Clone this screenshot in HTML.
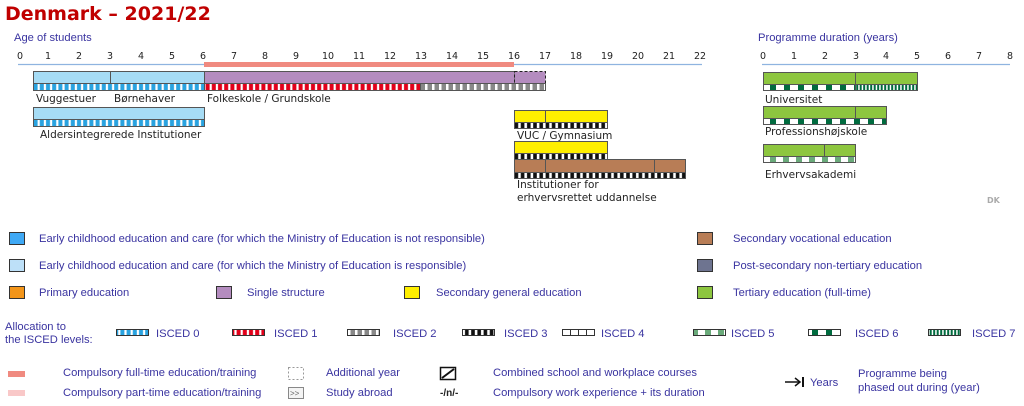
<!DOCTYPE html>
<html><head><meta charset="utf-8"><style>
body{margin:0;background:#fff;}
svg{display:block;font-family:"Liberation Sans",Arial,sans-serif;}
.t{font-family:"DejaVu Sans","Liberation Sans",sans-serif;font-size:10.5px;fill:#222;}
.l{font-size:11.2px;fill:#3a34a0;}
.ax{font-family:"DejaVu Sans",sans-serif;font-size:9.5px;fill:#222;text-anchor:middle;}
</style></head><body>
<svg width="1024" height="406" viewBox="0 0 1024 406" xmlns="http://www.w3.org/2000/svg">
<defs>
<pattern id="p0" width="6.2" height="7" patternUnits="userSpaceOnUse" x="33"><rect width="6.2" height="7" fill="#fff"/><rect x="0.6" y="0" width="4" height="7" fill="#29a3e0"/></pattern>
<pattern id="p1" width="6.2" height="7" patternUnits="userSpaceOnUse" x="205"><rect width="6.2" height="7" fill="#fff"/><rect x="0.6" y="0" width="4" height="7" fill="#e2001a"/></pattern>
<pattern id="p2" width="7" height="7" patternUnits="userSpaceOnUse" x="420"><rect width="7" height="7" fill="#fff"/><rect x="0.5" y="0" width="4.5" height="7" fill="#888"/></pattern>
<pattern id="p3" width="6.2" height="7" patternUnits="userSpaceOnUse" x="514"><rect width="6.2" height="7" fill="#fff"/><rect x="0.6" y="0" width="3.6" height="7" fill="#111"/></pattern>
<pattern id="p5" width="13" height="7" patternUnits="userSpaceOnUse" x="763"><rect width="13" height="7" fill="#fff"/><rect x="7" y="0" width="6" height="7" fill="#6aaa7a"/></pattern>
<pattern id="p6" width="14" height="7" patternUnits="userSpaceOnUse" x="763"><rect width="14" height="7" fill="#fff"/><rect x="7" y="0" width="6" height="7" fill="#006b3f"/></pattern>
<pattern id="p7" width="3.5" height="7" patternUnits="userSpaceOnUse" x="855"><rect width="3.5" height="7" fill="#fff"/><rect x="1.2" y="0" width="2" height="7" fill="#006b3f"/></pattern>
</defs>
<text x="5" y="20" font-family="DejaVu Sans,sans-serif" font-weight="bold" font-size="19" fill="#c00000">Denmark – 2021/22</text>
<text x="14" y="41" class="l">Age of students</text>
<text x="758" y="41" class="l">Programme duration (years)</text>
<g class="ax">
<text x="20" y="59">0</text><text x="48" y="59">1</text><text x="79" y="59">2</text><text x="110" y="59">3</text><text x="141" y="59">4</text><text x="172" y="59">5</text><text x="203" y="59">6</text><text x="234" y="59">7</text><text x="265" y="59">8</text><text x="296" y="59">9</text><text x="328" y="59">10</text><text x="359" y="59">11</text><text x="390" y="59">12</text><text x="421" y="59">13</text><text x="452" y="59">14</text><text x="483" y="59">15</text><text x="514" y="59">16</text><text x="545" y="59">17</text><text x="576" y="59">18</text><text x="607" y="59">19</text><text x="638" y="59">20</text><text x="669" y="59">21</text><text x="700" y="59">22</text>
<text x="763" y="59">0</text><text x="794" y="59">1</text><text x="825" y="59">2</text><text x="856" y="59">3</text><text x="886" y="59">4</text><text x="917" y="59">5</text><text x="948" y="59">6</text><text x="979" y="59">7</text><text x="1010" y="59">8</text>
</g>
<line x1="18" y1="64.5" x2="702" y2="64.5" stroke="#8fb4e0" stroke-width="1.2"/>
<line x1="762" y1="64.5" x2="1010" y2="64.5" stroke="#8fb4e0" stroke-width="1.2"/>
<rect x="204" y="62" width="310" height="5" fill="#f08a80"/>
<g stroke="#555" stroke-width="1">
<rect x="33.5" y="71.5" width="171" height="12" fill="#a6dcf5"/><line x1="110.5" y1="71.5" x2="110.5" y2="83.5"/>
<rect x="33.5" y="83.5" width="171" height="7" fill="url(#p0)"/>
<rect x="204.5" y="71.5" width="310" height="12" fill="#b48cbf"/>
<rect x="514.5" y="71.5" width="31" height="12" fill="#b48cbf" stroke="#222" stroke-dasharray="3,2"/>
<rect x="204.5" y="83.5" width="216" height="7" fill="url(#p1)"/>
<rect x="420.5" y="83.5" width="125" height="7" fill="url(#p2)"/>
<rect x="33.5" y="107.5" width="171" height="12" fill="#a6dcf5"/>
<rect x="33.5" y="119.5" width="171" height="7" fill="url(#p0)"/>
<rect x="514.5" y="110.5" width="93" height="12" fill="#ffef00"/><line x1="545.5" y1="110.5" x2="545.5" y2="122.5"/>
<rect x="514.5" y="122.5" width="93" height="6" fill="url(#p3)"/>
<rect x="514.5" y="141.5" width="93" height="12" fill="#ffef00"/>
<rect x="514.5" y="153.5" width="93" height="6" fill="url(#p3)"/>
<rect x="514.5" y="159.5" width="171" height="13" fill="#b87d56"/><line x1="545.5" y1="159.5" x2="545.5" y2="172.5"/><line x1="654.5" y1="159.5" x2="654.5" y2="172.5"/>
<rect x="514.5" y="172.5" width="171" height="6" fill="url(#p3)"/>
<rect x="763.5" y="72.5" width="154" height="12" fill="#8dc63f"/><line x1="855.5" y1="72.5" x2="855.5" y2="84.5"/>
<rect x="763.5" y="84.5" width="92" height="6" fill="url(#p6)"/><rect x="855.5" y="84.5" width="62" height="6" fill="url(#p7)"/>
<rect x="763.5" y="106.5" width="123" height="12" fill="#8dc63f"/><line x1="855.5" y1="106.5" x2="855.5" y2="118.5"/>
<rect x="763.5" y="118.5" width="123" height="6" fill="url(#p6)"/>
<rect x="763.5" y="144.5" width="92" height="12" fill="#8dc63f"/><line x1="824.5" y1="144.5" x2="824.5" y2="156.5"/>
<rect x="763.5" y="156.5" width="92" height="6" fill="url(#p5)"/>
</g>
<text x="36" y="102" class="t">Vuggestuer</text>
<text x="114" y="102" class="t">Børnehaver</text>
<text x="207" y="102" class="t">Folkeskole / Grundskole</text>
<text x="40" y="138" class="t">Aldersintegrerede Institutioner</text>
<text x="517" y="139" class="t">VUC / Gymnasium</text>
<text x="517" y="188" class="t">Institutioner for</text>
<text x="517" y="201" class="t">erhvervsrettet uddannelse</text>
<text x="765" y="103" class="t">Universitet</text>
<text x="765" y="135" class="t">Professionshøjskole</text>
<text x="765" y="178" class="t">Erhvervsakademi</text>
<text x="987" y="203" font-family="DejaVu Sans,sans-serif" font-weight="bold" font-size="8" fill="#aaa">DK</text>
<g stroke="#333" stroke-width="1">
<rect x="9.5" y="232.5" width="15" height="12" fill="#3fa9f5"/>
<rect x="9.5" y="259.5" width="15" height="12" fill="#bde0f8"/>
<rect x="9.5" y="286.5" width="15" height="12" fill="#f39519"/>
<rect x="216.5" y="286.5" width="15" height="12" fill="#b48cbf"/>
<rect x="404.5" y="286.5" width="15" height="12" fill="#ffef00"/>
<rect x="697.5" y="232.5" width="15" height="12" fill="#b87d56"/>
<rect x="697.5" y="259.5" width="15" height="12" fill="#6e7490"/>
<rect x="697.5" y="286.5" width="15" height="12" fill="#8dc63f"/>
</g>
<g class="l">
<text x="39" y="242">Early childhood education and care (for which the Ministry of Education is not responsible)</text>
<text x="39" y="269">Early childhood education and care (for which the Ministry of Education is responsible)</text>
<text x="39" y="296">Primary education</text>
<text x="247" y="296">Single structure</text>
<text x="436" y="296">Secondary general education</text>
<text x="733" y="242">Secondary vocational education</text>
<text x="733" y="269">Post-secondary non-tertiary education</text>
<text x="733" y="296">Tertiary education (full-time)</text>
<text x="5" y="330">Allocation to</text>
<text x="5" y="343">the ISCED levels:</text>
<text x="156" y="337">ISCED 0</text><text x="274" y="337">ISCED 1</text><text x="393" y="337">ISCED 2</text><text x="504" y="337">ISCED 3</text><text x="601" y="337">ISCED 4</text><text x="731" y="337">ISCED 5</text><text x="855" y="337">ISCED 6</text><text x="972" y="337">ISCED 7</text>
<text x="63" y="376">Compulsory full-time education/training</text>
<text x="63" y="396">Compulsory part-time education/training</text>
<text x="326" y="376">Additional year</text>
<text x="326" y="396">Study abroad</text>
<text x="493" y="376">Combined school and workplace courses</text>
<text x="493" y="396">Compulsory work experience + its duration</text>
<text x="810" y="386">Years</text>
<text x="858" y="377">Programme being</text>
<text x="858" y="391">phased out during (year)</text>
</g>
<g stroke="#333" stroke-width="1">
<rect x="116.5" y="329.5" width="32" height="6" fill="url(#p0)"/>
<rect x="232.5" y="329.5" width="32" height="6" fill="url(#p1)"/>
<rect x="347.5" y="329.5" width="32" height="6" fill="url(#p2)"/>
<rect x="462.5" y="329.5" width="32" height="6" fill="url(#p3)"/>
<rect x="562.5" y="329.5" width="32" height="6" fill="#fff"/>
<line x1="570.5" y1="329.5" x2="570.5" y2="335.5"/><line x1="578.5" y1="329.5" x2="578.5" y2="335.5"/><line x1="586.5" y1="329.5" x2="586.5" y2="335.5"/>
<rect x="693.5" y="329.5" width="32" height="6" fill="url(#p5)"/>
<rect x="808.5" y="329.5" width="32" height="6" fill="url(#p6)"/>
<rect x="928.5" y="329.5" width="32" height="6" fill="url(#p7)"/>
</g>
<rect x="8" y="371" width="17" height="6" fill="#f08a80"/>
<rect x="8" y="390" width="17" height="6" fill="#f9c8c8"/>
<rect x="288.5" y="367.5" width="15" height="12" fill="none" stroke="#999" stroke-dasharray="2,2"/>
<rect x="288.5" y="387.5" width="15" height="11" fill="#f4f4f4" stroke="#888"/>
<text x="290" y="396" font-size="8" fill="#666">&gt;&gt;</text>
<rect x="440.5" y="367.5" width="15" height="12" fill="#fff" stroke="#111" stroke-width="1.5"/>
<line x1="442" y1="378" x2="454" y2="369" stroke="#111" stroke-width="2"/>
<text x="440" y="396" font-size="10" font-weight="bold" fill="#222">-/n/-</text>
<line x1="785" y1="382" x2="800" y2="382" stroke="#111" stroke-width="1.5"/>
<path d="M795 378 L800 382 L795 386" fill="none" stroke="#111" stroke-width="1.5"/>
<line x1="803" y1="377" x2="803" y2="387" stroke="#111" stroke-width="2"/>
</svg>
</body></html>
